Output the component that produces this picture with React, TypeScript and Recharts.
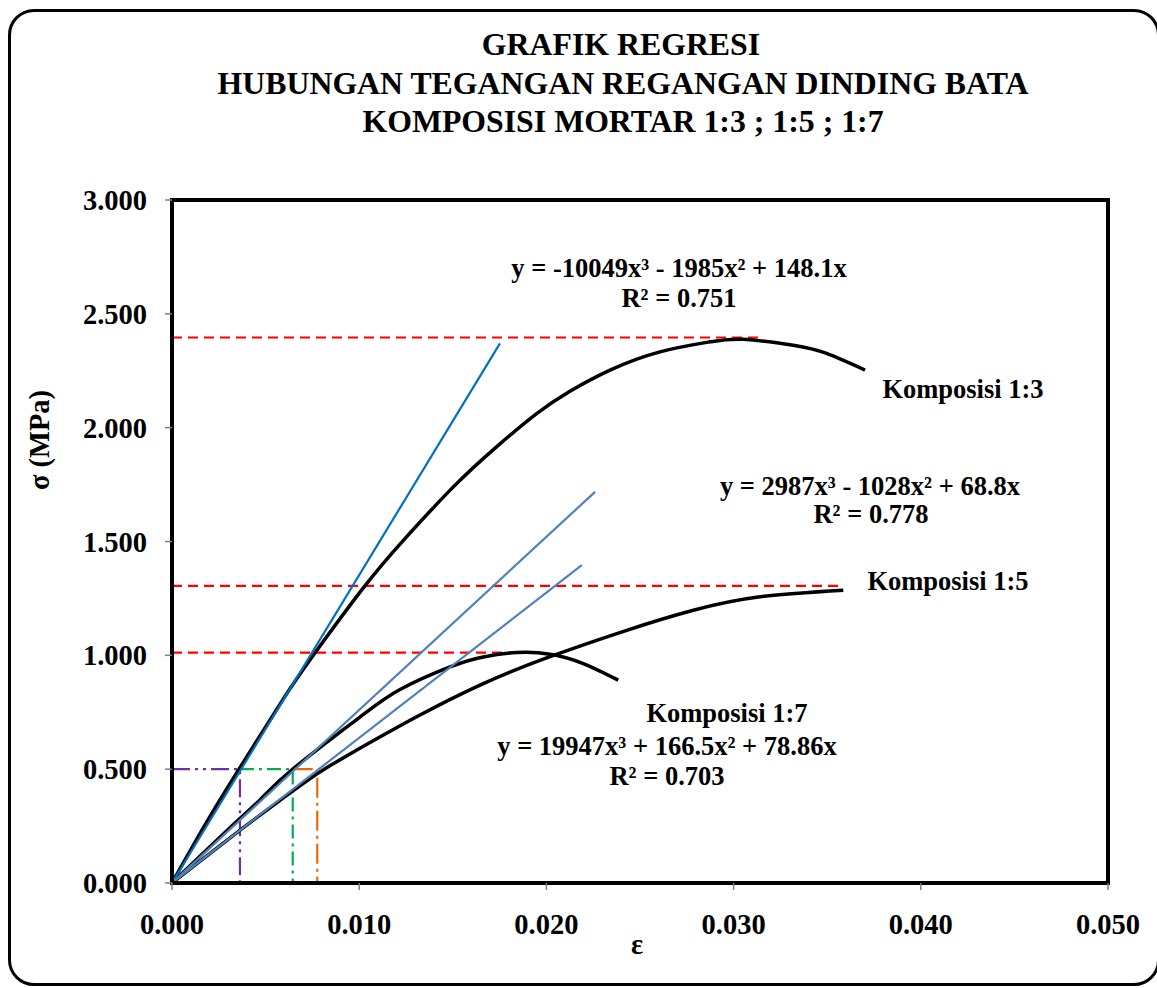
import React from 'react';
import { LineChart, Line, XAxis, YAxis, ReferenceArea } from 'recharts';

// ---- ticks ----
const xTicks = [0, 0.01, 0.02, 0.03, 0.04, 0.05];
const yTicks = [0, 0.5, 1, 1.5, 2, 2.5, 3];

// ---- text ----
const titleLines = [
  'GRAFIK REGRESI',
  'HUBUNGAN TEGANGAN REGANGAN DINDING BATA',
  'KOMPOSISI MORTAR 1:3 ; 1:5 ; 1:7',
];
const xLabel = 'ε';
const yLabel = 'σ (MPa)';

// ---- regression curves (strain ε, stress σ in MPa) ----
const curve13 = [
  { x: 0, y: 0 },
  { x: 0.002, y: 0.288 },
  { x: 0.004, y: 0.555 },
  { x: 0.00595, y: 0.809 },
  { x: 0.00752, y: 0.997 },
  { x: 0.01022, y: 1.296 },
  { x: 0.01236, y: 1.505 },
  { x: 0.01503, y: 1.74 },
  { x: 0.01735, y: 1.917 },
  { x: 0.01948, y: 2.062 },
  { x: 0.02126, y: 2.16 },
  { x: 0.0234, y: 2.253 },
  { x: 0.02607, y: 2.333 },
  { x: 0.02874, y: 2.377 },
  { x: 0.03052, y: 2.388 },
  { x: 0.03319, y: 2.362 },
  { x: 0.03497, y: 2.326 },
  { x: 0.03702, y: 2.253 },
];
const curve15 = [
  { x: 0, y: 0 },
  { x: 0.003, y: 0.192 },
  { x: 0.00559, y: 0.352 },
  { x: 0.00773, y: 0.478 },
  { x: 0.00951, y: 0.567 },
  { x: 0.01307, y: 0.73 },
  { x: 0.01663, y: 0.876 },
  { x: 0.02019, y: 0.994 },
  { x: 0.02429, y: 1.11 },
  { x: 0.02785, y: 1.198 },
  { x: 0.03141, y: 1.257 },
  { x: 0.03586, y: 1.286 },
];
const curve17 = [
  { x: 0, y: 0 },
  { x: 0.003, y: 0.235 },
  { x: 0.0047, y: 0.365 },
  { x: 0.00645, y: 0.5 },
  { x: 0.01004, y: 0.729 },
  { x: 0.01218, y: 0.85 },
  { x: 0.01485, y: 0.949 },
  { x: 0.01663, y: 0.993 },
  { x: 0.01841, y: 1.012 },
  { x: 0.02019, y: 1.005 },
  { x: 0.02197, y: 0.964 },
  { x: 0.02384, y: 0.891 },
];

// ---- tangent (elastic modulus) lines ----
const tangent13 = [
  { x: 0, y: 0 },
  { x: 0.01752, y: 2.37 },
];
const tangent17 = [
  { x: 0, y: 0 },
  { x: 0.0226, y: 1.718 },
];
const tangent15 = [
  { x: 0, y: 0 },
  { x: 0.02189, y: 1.396 },
];

// ---- peak stress guides ----
const peak13 = [
  { x: 0, y: 2.396 },
  { x: 0.0313, y: 2.396 },
];
const peak15 = [
  { x: 0, y: 1.305 },
  { x: 0.0359, y: 1.305 },
];
const peak17 = [
  { x: 0, y: 1.012 },
  { x: 0.0182, y: 1.012 },
];

// ---- strain at 0.5 MPa guides ----
const guide13 = [
  { x: 0, y: 0.5 },
  { x: 0.00363, y: 0.5 },
  { x: 0.00363, y: 0 },
];
const guide17 = [
  { x: 0.00363, y: 0.5 },
  { x: 0.00645, y: 0.5 },
  { x: 0.00645, y: 0 },
];
const guide15 = [
  { x: 0.00645, y: 0.5 },
  { x: 0.00776, y: 0.5 },
  { x: 0.00776, y: 0 },
];

const FONT = '"Liberation Serif", "Times New Roman", Times, serif';

const fmt = (v: number) => v.toFixed(3);

const textStyle = (left: number, top: number, size: number): React.CSSProperties => ({
  position: 'absolute',
  left,
  top,
  transform: 'translate(-50%, -50%)',
  fontFamily: FONT,
  fontWeight: 'bold',
  fontSize: size,
  lineHeight: 1,
  whiteSpace: 'nowrap',
  color: '#000',
  pointerEvents: 'none',
});

export default function App() {
  const W = 1157;
  const H = 988;
  const tickFont = { fontFamily: FONT, fontSize: 28.5, fontWeight: 'bold', fill: '#000' } as any;
  return (
    <div style={{ position: 'relative', width: W, height: H, overflow: 'hidden', background: '#fff' }}>
      <style>{'html,body{margin:0;padding:0;overflow:hidden;}'}</style>
      <LineChart width={W} height={H} margin={{ top: 200, right: 49, bottom: 45, left: 0 }}>
        <XAxis
          type="number"
          dataKey="x"
          domain={[0, 0.05]}
          ticks={xTicks}
          tickFormatter={fmt}
          height={60}
          tick={tickFont}
          tickSize={7}
          tickMargin={24}
          axisLine={{ stroke: '#000', strokeWidth: 4 }}
          tickLine={{ stroke: '#808080', strokeWidth: 1.5 }}
          allowDataOverflow
        />
        <YAxis
          type="number"
          dataKey="y"
          domain={[0, 3]}
          ticks={yTicks}
          tickFormatter={fmt}
          width={172}
          tick={tickFont}
          tickSize={7}
          tickMargin={18}
          axisLine={{ stroke: '#000', strokeWidth: 4 }}
          tickLine={{ stroke: '#808080', strokeWidth: 1.5 }}
          allowDataOverflow
        />

        <Line data={peak13} dataKey="y" type="linear" stroke="#FF0000" strokeWidth={2.2} strokeDasharray="10 6" dot={false} activeDot={false} isAnimationActive={false} />
        <Line data={peak15} dataKey="y" type="linear" stroke="#FF0000" strokeWidth={2.2} strokeDasharray="10 6" dot={false} activeDot={false} isAnimationActive={false} />
        <Line data={peak17} dataKey="y" type="linear" stroke="#FF0000" strokeWidth={2.2} strokeDasharray="10 6" dot={false} activeDot={false} isAnimationActive={false} />

        <Line data={guide13} dataKey="y" type="linear" stroke="#7030A0" strokeWidth={2.2} strokeDasharray="18 5 3 5 3 5" dot={false} activeDot={false} isAnimationActive={false} />
        <Line data={guide17} dataKey="y" type="linear" stroke="#00B050" strokeWidth={2.2} strokeDasharray="14 5 3 5" dot={false} activeDot={false} isAnimationActive={false} />
        <Line data={guide15} dataKey="y" type="linear" stroke="#E36C09" strokeWidth={2.2} strokeDasharray="20 5 3 5" dot={false} activeDot={false} isAnimationActive={false} />

        <Line data={curve13} dataKey="y" type="natural" stroke="#000" strokeWidth={3.5} dot={false} activeDot={false} isAnimationActive={false} />
        <Line data={curve15} dataKey="y" type="natural" stroke="#000" strokeWidth={3.5} dot={false} activeDot={false} isAnimationActive={false} />
        <Line data={curve17} dataKey="y" type="natural" stroke="#000" strokeWidth={3.5} dot={false} activeDot={false} isAnimationActive={false} />

        <Line data={tangent13} dataKey="y" type="linear" stroke="#0070C0" strokeWidth={2.2} dot={false} activeDot={false} isAnimationActive={false} />
        <Line data={tangent17} dataKey="y" type="linear" stroke="#4F81BD" strokeWidth={2.2} dot={false} activeDot={false} isAnimationActive={false} />
        <Line data={tangent15} dataKey="y" type="linear" stroke="#4F81BD" strokeWidth={2.2} dot={false} activeDot={false} isAnimationActive={false} />

        <ReferenceArea x1={0} x2={0.05} y1={0} y2={3} fill="none" fillOpacity={0} stroke="#000" strokeWidth={4} ifOverflow="visible" />
      </LineChart>

      {/* frame */}
      <div
        style={{
          position: 'absolute',
          left: 8,
          top: 9,
          width: 1152,
          height: 977,
          boxSizing: 'border-box',
          border: '3px solid #000',
          borderRadius: 26,
          pointerEvents: 'none',
        }}
      />

      {/* title */}
      <div style={textStyle(621, 45, 31.8)}>{titleLines[0]}</div>
      <div style={textStyle(623, 84, 31.8)}>{titleLines[1]}</div>
      <div style={textStyle(623, 122, 31.8)}>{titleLines[2]}</div>

      {/* axis labels */}
      <div style={textStyle(637, 945, 28.5)}>{xLabel}</div>
      <div style={{ ...textStyle(40, 440, 28.5), transform: 'translate(-50%, -50%) rotate(-90deg)' }}>{yLabel}</div>

      {/* annotations */}
      <div style={textStyle(679, 268, 26.5)}>y = -10049x³ - 1985x² + 148.1x</div>
      <div style={textStyle(679, 298, 26.5)}>R² = 0.751</div>
      <div style={textStyle(963, 389, 26.5)}>Komposisi 1:3</div>

      <div style={textStyle(870, 486, 26.5)}>y = 2987x³ - 1028x² + 68.8x</div>
      <div style={textStyle(871, 514, 26.5)}>R² = 0.778</div>
      <div style={textStyle(948, 581, 26.5)}>Komposisi 1:5</div>

      <div style={textStyle(727, 713, 26.5)}>Komposisi 1:7</div>
      <div style={textStyle(667, 746, 26.5)}>y = 19947x³ + 166.5x² + 78.86x</div>
      <div style={textStyle(667, 776, 26.5)}>R² = 0.703</div>
    </div>
  );
}
